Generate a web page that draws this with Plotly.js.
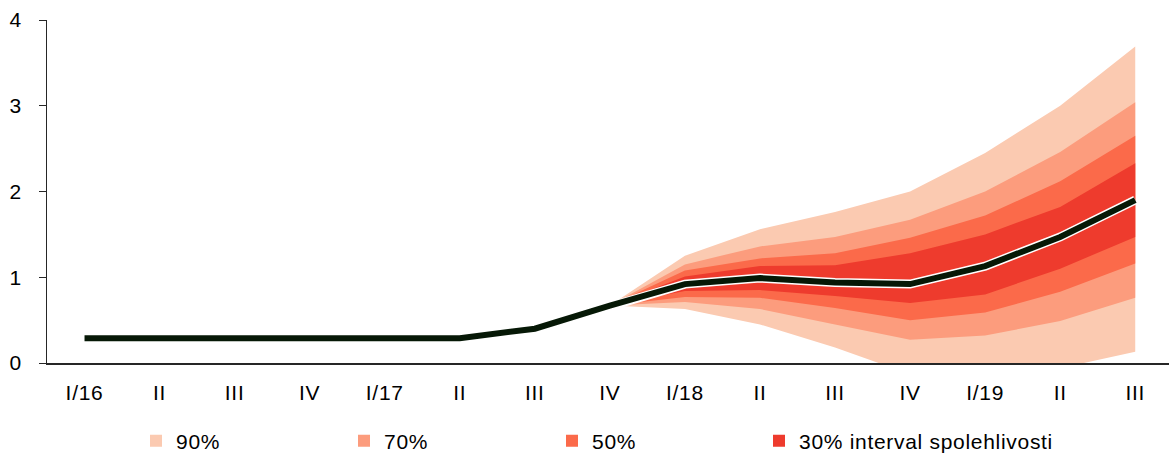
<!DOCTYPE html>
<html>
<head>
<meta charset="utf-8">
<script src="https://cdn.plot.ly/plotly-3.0.1.min.js"></script>
<style>
  html, body { margin: 0; padding: 0; background: #fff; }
  #chart { width: 1169px; height: 457px; }
  #chart svg text { letter-spacing: 0.7px; }
</style>
</head>
<body>
<div id="chart"></div>
<script>
// Quarter categories (positions 0..14) and their tick labels
const quarterIdx = [0, 1, 2, 3, 4, 5, 6, 7, 8, 9, 10, 11, 12, 13, 14];
const tickLabels = ['I/16', 'II', 'III', 'IV', 'I/17', 'II', 'III', 'IV', 'I/18', 'II', 'III', 'IV', 'I/19', 'II', 'III'];

// Central projection
const central = [0.29, 0.29, 0.29, 0.29, 0.28, 0.29, 0.40, 0.67, 0.92, 0.99, 0.94, 0.92, 1.13, 1.47, 1.90];

// Fan bands (from IV/17 onward, positions 7..14)
const fanIdx = [7, 8, 9, 10, 11, 12, 13, 14];
const upper90 = [0.67, 1.25, 1.56, 1.76, 2.00, 2.45, 3.00, 3.69];
const upper70 = [0.67, 1.15, 1.36, 1.47, 1.67, 2.00, 2.46, 3.04];
const upper50 = [0.67, 1.08, 1.22, 1.28, 1.46, 1.72, 2.12, 2.65];
const upper30 = [0.67, 1.01, 1.13, 1.14, 1.28, 1.50, 1.82, 2.33];
const lower30 = [0.67, 0.84, 0.85, 0.78, 0.70, 0.80, 1.10, 1.47];
const lower50 = [0.67, 0.77, 0.76, 0.64, 0.50, 0.59, 0.83, 1.16];
const lower70 = [0.67, 0.71, 0.63, 0.45, 0.27, 0.32, 0.49, 0.76];
const lower90 = [0.67, 0.63, 0.45, 0.18, -0.13, -0.20, -0.06, 0.13];

const bandNames = ['90%', '70%', '50%', '30% interval spolehlivosti'];
const bandColors = ['#fbcab1', '#fc9c7d', '#fb6a4a', '#ee3b2d'];

const FONT = '"Liberation Sans", Arial, Helvetica, sans-serif';
const FS = 21;

function band(up, lo, color) {
  const x = fanIdx.concat(fanIdx.slice().reverse());
  const y = up.concat(lo.slice().reverse());
  return {
    x: x, y: y, type: 'scatter', mode: 'lines', fill: 'toself',
    fillcolor: color, line: { width: 0, color: color },
    showlegend: false, hoverinfo: 'skip'
  };
}

const traces = [
  band(upper90, lower90, bandColors[0]),
  band(upper70, lower70, bandColors[1]),
  band(upper50, lower50, bandColors[2]),
  band(upper30, lower30, bandColors[3]),
  { x: quarterIdx, y: central, type: 'scatter', mode: 'lines',
    line: { color: '#ffffff', width: 9 }, showlegend: false, hoverinfo: 'skip' },
  { x: quarterIdx, y: central, type: 'scatter', mode: 'lines',
    line: { color: '#061806', width: 6 }, showlegend: false }
];

// legend entries (first three in legend, last one in legend2)
bandNames.forEach(function (name, i) {
  traces.push({
    x: [null], y: [null], type: 'scatter', mode: 'markers', name: name,
    marker: { symbol: 'square', size: 12, color: bandColors[i] },
    showlegend: true, legend: i < 3 ? 'legend' : 'legend2'
  });
});

const legendBase = {
  orientation: 'h', xref: 'container', yref: 'container',
  xanchor: 'left', y: 16 / 457, yanchor: 'middle',
  font: { family: FONT, size: FS, color: '#000' },
  itemclick: false, itemdoubleclick: false,
  bgcolor: 'rgba(0,0,0,0)', borderwidth: 0
};

const layout = {
  width: 1169, height: 457,
  margin: { l: 47, r: 0, t: 20, b: 94 },
  paper_bgcolor: '#ffffff', plot_bgcolor: '#ffffff',
  font: { family: FONT, size: FS, color: '#000000' },
  showlegend: true,
  legend: Object.assign({}, legendBase, { x: 136 / 1169, entrywidth: 163, entrywidthmode: 'pixels' }),
  legend2: Object.assign({}, legendBase, { x: 759 / 1169, entrywidth: 330, entrywidthmode: 'pixels' }),
  xaxis: {
    range: [-0.5, 14.45], tickmode: 'array', tickvals: quarterIdx, ticktext: tickLabels,
    showgrid: false, zeroline: false, showline: true, linecolor: '#262626', linewidth: 1.5,
    ticks: '', ticklabelstandoff: 10, tickfont: { family: FONT, size: FS, color: '#000' },
    fixedrange: true
  },
  yaxis: {
    range: [0, 4], tickmode: 'array', tickvals: [0, 1, 2, 3, 4],
    showgrid: false, zeroline: false, showline: true, linecolor: '#262626', linewidth: 1,
    ticks: 'outside', ticklen: 7, tickcolor: '#262626', tickwidth: 1,
    ticklabelstandoff: 13, tickfont: { family: FONT, size: FS, color: '#000' },
    fixedrange: true
  }
};

Plotly.newPlot('chart', traces, layout, { displayModeBar: false, staticPlot: true });
</script>
</body>
</html>
